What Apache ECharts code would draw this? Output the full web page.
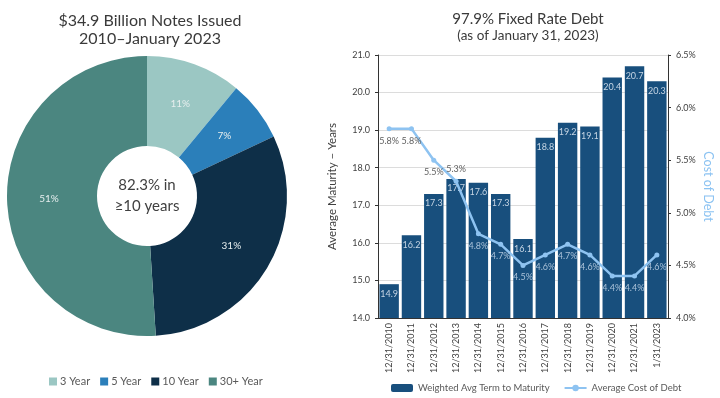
<!DOCTYPE html>
<html>
<head>
<meta charset="utf-8">
<script src="https://cdn.jsdelivr.net/npm/echarts@6/dist/echarts.min.js"></script>
<style>
  html, body { margin: 0; padding: 0; background: #fff; }
  #chart { width: 720px; height: 398px; }
</style>
</head>
<body>
<div id="chart"></div>
<script>
// pie: notes issued by tenor
const tenors = ['3 Year', '5 Year', '10 Year', '30+ Year'];
const tenorShare = [11, 7, 31, 51];
const tenorColors = ['#9bc7c3', '#2b7fba', '#0e2f48', '#4b8680'];

// bar + line: fixed rate debt
const dates = ['12/31/2010', '12/31/2011', '12/31/2012', '12/31/2013', '12/31/2014', '12/31/2015',
    '12/31/2016', '12/31/2017', '12/31/2018', '12/31/2019', '12/31/2020', '12/31/2021', '1/31/2023'];
const avgTerm = [14.9, 16.2, 17.3, 17.7, 17.6, 17.3, 16.1, 18.8, 19.2, 19.1, 20.4, 20.7, 20.3];
const costOfDebt = [5.8, 5.8, 5.5, 5.3, 4.8, 4.7, 4.5, 4.6, 4.7, 4.6, 4.4, 4.4, 4.6];

const font = 'Lato, "Open Sans", sans-serif';

// line labels sitting over a bar get a light colour, the rest grey
let costData = costOfDebt.map((v, i) => {
    let asYears = 14 + (v - 4) / 2.5 * 7;
    let above = i === 3;
    let onBar = !above && asYears - 0.35 < avgTerm[i];
    return {
        value: v,
        label: {
            position: above ? 'top' : 'bottom',
            color: onBar ? '#a9c1d8' : '#606060'
        }
    };
});

let chart = echarts.init(document.getElementById('chart'));

let option = {
    backgroundColor: '#fff',
    textStyle: { fontFamily: font },
    animation: false,
    title: [{
        text: '$34.9 Billion Notes Issued\n2010\u2013January 2023',
        left: 145,
        top: 7,
        textAlign: 'center',
        textStyle: { fontSize: 16, fontWeight: 'normal', color: '#3a3a3a', lineHeight: 18, fontFamily: font }
    }, {
        text: '97.9% Fixed Rate Debt',
        subtext: '(as of January 31, 2023)',
        left: 523,
        top: 7,
        textAlign: 'center',
        itemGap: 2,
        textStyle: { fontSize: 15, fontWeight: 'normal', color: '#3a3a3a', fontFamily: font },
        subtextStyle: { fontSize: 13.5, color: '#3a3a3a', fontFamily: font }
    }],
    legend: [{
        data: tenors,
        left: 44,
        top: 371,
        itemWidth: 8,
        itemHeight: 8,
        itemGap: 10,
        icon: 'rect',
        textStyle: { fontSize: 11, color: '#595959', padding: [0, 0, 0, -2] }
    }, {
        data: ['Weighted Avg Term to Maturity', 'Average Cost of Debt'],
        left: 386,
        top: 378,
        itemWidth: 22,
        itemHeight: 8,
        itemGap: 14,
        textStyle: { fontSize: 9.5, color: '#595959' }
    }],
    graphic: [{
        type: 'text',
        x: 147,
        y: 196,
        style: {
            text: '82.3% in\n\u226510 years',
            font: '15px ' + font,
            fill: '#404040',
            align: 'center',
            verticalAlign: 'middle',
            lineHeight: 21
        }
    }],
    grid: { left: 378, right: 52, top: 55, bottom: 80 },
    xAxis: {
        type: 'category',
        data: dates,
        axisLine: { lineStyle: { color: '#333' } },
        axisTick: { lineStyle: { color: '#333' }, length: 4 },
        axisLabel: { rotate: 90, fontSize: 9, color: '#404040', margin: 5, interval: 0 }
    },
    yAxis: [{
        type: 'value',
        min: 14,
        max: 21,
        interval: 1,
        name: 'Average Maturity \u2013 Years',
        nameLocation: 'middle',
        nameGap: 40,
        nameTextStyle: { fontSize: 11.5, color: '#404040' },
        axisLine: { show: true, lineStyle: { color: '#333' } },
        axisTick: { show: true, length: 3, lineStyle: { color: '#333' } },
        axisLabel: { fontSize: 9, color: '#404040', formatter: v => v.toFixed(1) },
        splitLine: { lineStyle: { color: '#dcdcdc' } }
    }, {
        type: 'value',
        min: 4,
        max: 6.5,
        interval: 0.5,
        position: 'right',
        name: 'Cost of Debt',
        nameLocation: 'middle',
        nameRotate: -90,
        nameGap: 34,
        nameTextStyle: { fontSize: 12.5, color: '#8cc3f2' },
        axisLine: { show: true, lineStyle: { color: '#333' } },
        axisTick: { show: true, length: 3, lineStyle: { color: '#333' } },
        axisLabel: { fontSize: 9, color: '#404040', formatter: v => v.toFixed(1) + '%' },
        splitLine: { show: false }
    }],
    series: [{
        type: 'pie',
        name: 'Notes Issued',
        center: [147, 196],
        radius: [50, 140],
        startAngle: 90,
        clockwise: true,
        silent: true,
        data: tenors.map((t, i) => ({ name: t, value: tenorShare[i], itemStyle: { color: tenorColors[i] } })),
        label: {
            position: 'inside',
            formatter: '{c}%',
            fontSize: 10,
            color: '#e6eeee'
        },
        labelLine: { show: false }
    }, {
        type: 'bar',
        name: 'Weighted Avg Term to Maturity',
        data: avgTerm,
        barCategoryGap: '13%',
        itemStyle: { color: '#184f7d' },
        label: {
            show: true,
            position: 'insideTop',
            distance: 5,
            fontSize: 9,
            color: '#c6d5e4',
            formatter: p => p.value.toFixed(1)
        }
    }, {
        type: 'line',
        name: 'Average Cost of Debt',
        yAxisIndex: 1,
        data: costData,
        symbol: 'circle',
        symbolSize: 5,
        lineStyle: { color: '#8ec3f1', width: 2.5 },
        itemStyle: { color: '#8ec3f1' },
        label: {
            show: true,
            distance: 5,
            fontSize: 9,
            formatter: p => p.value.toFixed(1) + '%'
        }
    }]
};

chart.setOption(option);
</script>
</body>
</html>
